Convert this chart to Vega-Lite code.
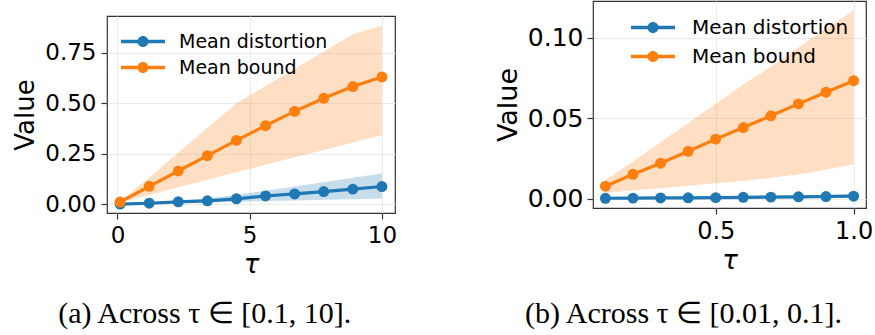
{
  "$schema": "https://vega.github.io/schema/vega-lite/v6.json",
  "background": "white",
  "padding": {"left": 12, "top": 0, "right": 0, "bottom": 0},
  "spacing": 95,
  "config": {
    "view": {"stroke": "#333333", "strokeWidth": 1.2},
    "axis": {
      "labelFont": "DejaVu Sans", "labelFontSize": 23, "labelColor": "#000000",
      "titleFont": "DejaVu Sans", "titleFontSize": 26, "titleFontWeight": "normal", "titleColor": "#000000",
      "tickColor": "#333333", "tickSize": 6, "tickWidth": 1.2, "domain": false,
      "gridColor": "#ebebeb", "gridWidth": 1, "labelPadding": 5
    },
    "axisX": {"titleFontStyle": "italic", "titleFontSize": 26, "titlePadding": 4},
    "axisY": {"titlePadding": 6},
    "legend": {"labelFont": "DejaVu Sans", "labelColor": "#000000", "padding": 0, "titlePadding": 0}
  },
  "resolve": {"scale": {"color": "independent", "fill": "independent"}, "legend": {"color": "independent"}},
  "hconcat": [
    {
      "spacing": 13,
      "vconcat": [
        {"width": 10, "height": 1, "data": {"values": []}, "mark": {"type": "point", "opacity": 0}, "view": {"stroke": null}},
        {
          "width": 288,
          "height": 197,
          "title": {"text": "(a) Across τ ∈ [0.1, 10].", "orient": "bottom", "font": "Liberation Serif", "fontSize": 30, "fontWeight": "normal", "color": "#000000", "frame": "bounds", "anchor": "middle", "offset": 22},
          "data": {"values": [
            {"tau": 0.1, "series": "Mean distortion", "mean": 0.0, "lo": 0.0, "hi": 0.001},
            {"tau": 1.2, "series": "Mean distortion", "mean": 0.004, "lo": 0.002, "hi": 0.007},
            {"tau": 2.3, "series": "Mean distortion", "mean": 0.011, "lo": 0.005, "hi": 0.018},
            {"tau": 3.4, "series": "Mean distortion", "mean": 0.016, "lo": 0.008, "hi": 0.028},
            {"tau": 4.5, "series": "Mean distortion", "mean": 0.026, "lo": 0.011, "hi": 0.046},
            {"tau": 5.6, "series": "Mean distortion", "mean": 0.040, "lo": 0.015, "hi": 0.066},
            {"tau": 6.7, "series": "Mean distortion", "mean": 0.050, "lo": 0.018, "hi": 0.087},
            {"tau": 7.8, "series": "Mean distortion", "mean": 0.062, "lo": 0.021, "hi": 0.108},
            {"tau": 8.9, "series": "Mean distortion", "mean": 0.074, "lo": 0.024, "hi": 0.130},
            {"tau": 10.0, "series": "Mean distortion", "mean": 0.087, "lo": 0.027, "hi": 0.151},
            {"tau": 0.1, "series": "Mean bound", "mean": 0.010, "lo": 0.008, "hi": 0.012},
            {"tau": 1.2, "series": "Mean bound", "mean": 0.088, "lo": 0.045, "hi": 0.132},
            {"tau": 2.3, "series": "Mean bound", "mean": 0.164, "lo": 0.083, "hi": 0.255},
            {"tau": 3.4, "series": "Mean bound", "mean": 0.240, "lo": 0.120, "hi": 0.378},
            {"tau": 4.5, "series": "Mean bound", "mean": 0.316, "lo": 0.158, "hi": 0.500},
            {"tau": 5.6, "series": "Mean bound", "mean": 0.389, "lo": 0.195, "hi": 0.586},
            {"tau": 6.7, "series": "Mean bound", "mean": 0.460, "lo": 0.232, "hi": 0.672},
            {"tau": 7.8, "series": "Mean bound", "mean": 0.525, "lo": 0.268, "hi": 0.757},
            {"tau": 8.9, "series": "Mean bound", "mean": 0.583, "lo": 0.305, "hi": 0.843},
            {"tau": 10.0, "series": "Mean bound", "mean": 0.631, "lo": 0.341, "hi": 0.885}
          ]},
          "encoding": {
            "x": {"field": "tau", "type": "quantitative", "scale": {"domain": [-0.395, 10.495], "nice": false, "zero": false}, "axis": {"values": [0, 5, 10], "format": "d", "title": "τ"}}
          },
          "layer": [
            {
              "mark": {"type": "area", "opacity": 0.25},
              "encoding": {
                "y": {"field": "lo", "type": "quantitative", "scale": {"domain": [-0.0445, 0.9335], "nice": false, "zero": false}, "axis": {"values": [0, 0.25, 0.5, 0.75], "format": ".2f", "title": "Value"}},
                "y2": {"field": "hi"},
                "fill": {"field": "series", "type": "nominal", "scale": {"domain": ["Mean bound", "Mean distortion"], "range": ["#ff7f0e", "#1f77b4"]}, "legend": null}
              }
            },
            {
              "mark": {"type": "line", "strokeWidth": 3.2},
              "encoding": {
                "y": {"field": "mean", "type": "quantitative", "title": "Value"},
                "color": {"field": "series", "type": "nominal", "scale": {"domain": ["Mean distortion", "Mean bound"], "range": ["#1f77b4", "#ff7f0e"]}}
              }
            },
            {
              "mark": {"type": "point", "filled": true, "size": 120, "opacity": 1},
              "encoding": {
                "y": {"field": "mean", "type": "quantitative", "title": "Value"},
                "color": {"field": "series", "type": "nominal", "scale": {"domain": ["Mean distortion", "Mean bound"], "range": ["#1f77b4", "#ff7f0e"]},
                  "legend": {"title": null, "orient": "none", "legendX": 22.5, "legendY": 27, "symbolType": "M -1.63 -0.13 L 1.63 -0.13 L 1.63 0.13 L -1.63 0.13 Z M 0.41 0 A 0.41 0.41 0 1 1 -0.41 0 A 0.41 0.41 0 1 1 0.41 0 Z", "symbolSize": 729, "symbolStrokeWidth": 0, "symbolOpacity": 1, "labelFontSize": 19, "labelOffset": 22.5, "rowPadding": 2}}
              }
            }
          ]
        }
      ]
    },
    {
      "width": 273,
      "height": 207,
      "title": {"text": "(b) Across τ ∈ [0.01, 0.1].", "orient": "bottom", "font": "Liberation Serif", "fontSize": 30, "fontWeight": "normal", "color": "#000000", "frame": "bounds", "anchor": "middle", "offset": 26},
      "data": {"values": [
        {"tau": 0.1, "series": "Mean distortion", "mean": 0.0002, "lo": 0.0, "hi": 0.0004},
        {"tau": 0.2, "series": "Mean distortion", "mean": 0.0003, "lo": 0.0001, "hi": 0.0006},
        {"tau": 0.3, "series": "Mean distortion", "mean": 0.0004, "lo": 0.0001, "hi": 0.0008},
        {"tau": 0.4, "series": "Mean distortion", "mean": 0.0005, "lo": 0.0001, "hi": 0.0010},
        {"tau": 0.5, "series": "Mean distortion", "mean": 0.0006, "lo": 0.0001, "hi": 0.0012},
        {"tau": 0.6, "series": "Mean distortion", "mean": 0.0008, "lo": 0.0002, "hi": 0.0015},
        {"tau": 0.7, "series": "Mean distortion", "mean": 0.0009, "lo": 0.0002, "hi": 0.0018},
        {"tau": 0.8, "series": "Mean distortion", "mean": 0.0011, "lo": 0.0002, "hi": 0.0021},
        {"tau": 0.9, "series": "Mean distortion", "mean": 0.0013, "lo": 0.0002, "hi": 0.0024},
        {"tau": 1.0, "series": "Mean distortion", "mean": 0.0015, "lo": 0.0003, "hi": 0.0028},
        {"tau": 0.1, "series": "Mean bound", "mean": 0.0077, "lo": 0.0035, "hi": 0.0115},
        {"tau": 0.2, "series": "Mean bound", "mean": 0.0151, "lo": 0.0050, "hi": 0.0230},
        {"tau": 0.3, "series": "Mean bound", "mean": 0.0220, "lo": 0.0065, "hi": 0.0350},
        {"tau": 0.4, "series": "Mean bound", "mean": 0.0294, "lo": 0.0080, "hi": 0.0470},
        {"tau": 0.5, "series": "Mean bound", "mean": 0.0370, "lo": 0.0095, "hi": 0.0590},
        {"tau": 0.6, "series": "Mean bound", "mean": 0.0442, "lo": 0.0110, "hi": 0.0710},
        {"tau": 0.7, "series": "Mean bound", "mean": 0.0515, "lo": 0.0130, "hi": 0.0820},
        {"tau": 0.8, "series": "Mean bound", "mean": 0.0589, "lo": 0.0150, "hi": 0.0940},
        {"tau": 0.9, "series": "Mean bound", "mean": 0.0662, "lo": 0.0180, "hi": 0.1060},
        {"tau": 1.0, "series": "Mean bound", "mean": 0.0733, "lo": 0.0213, "hi": 0.1170}
      ]},
      "encoding": {
        "x": {"field": "tau", "type": "quantitative", "scale": {"domain": [0.055, 1.045], "nice": false, "zero": false}, "axis": {"values": [0.5, 1.0], "format": ".1f", "title": "τ", "labelFontSize": 24}}
      },
      "layer": [
        {
          "mark": {"type": "area", "opacity": 0.25},
          "encoding": {
            "y": {"field": "lo", "type": "quantitative", "scale": {"domain": [-0.00585, 0.1229], "nice": false, "zero": false}, "axis": {"values": [0, 0.05, 0.1], "format": ".2f", "title": "Value", "labelFontSize": 25, "labelPadding": 4, "titlePadding": 5, "titleFontSize": 27}},
            "y2": {"field": "hi"},
            "fill": {"field": "series", "type": "nominal", "scale": {"domain": ["Mean bound", "Mean distortion"], "range": ["#ff7f0e", "#1f77b4"]}, "legend": null}
          }
        },
        {
          "mark": {"type": "line", "strokeWidth": 3.2},
          "encoding": {
            "y": {"field": "mean", "type": "quantitative", "title": "Value"},
            "color": {"field": "series", "type": "nominal", "scale": {"domain": ["Mean distortion", "Mean bound"], "range": ["#1f77b4", "#ff7f0e"]}}
          }
        },
        {
          "mark": {"type": "point", "filled": true, "size": 120, "opacity": 1},
          "encoding": {
            "y": {"field": "mean", "type": "quantitative", "title": "Value"},
            "color": {"field": "series", "type": "nominal", "scale": {"domain": ["Mean distortion", "Mean bound"], "range": ["#1f77b4", "#ff7f0e"]},
              "legend": {"title": null, "orient": "none", "legendX": 46.5, "legendY": 13, "symbolType": "M -1.63 -0.13 L 1.63 -0.13 L 1.63 0.13 L -1.63 0.13 Z M 0.41 0 A 0.41 0.41 0 1 1 -0.41 0 A 0.41 0.41 0 1 1 0.41 0 Z", "symbolSize": 729, "symbolStrokeWidth": 0, "symbolOpacity": 1, "labelFontSize": 20, "labelOffset": 25.5, "rowPadding": 5}}
          }
        }
      ]
    }
  ]
}
